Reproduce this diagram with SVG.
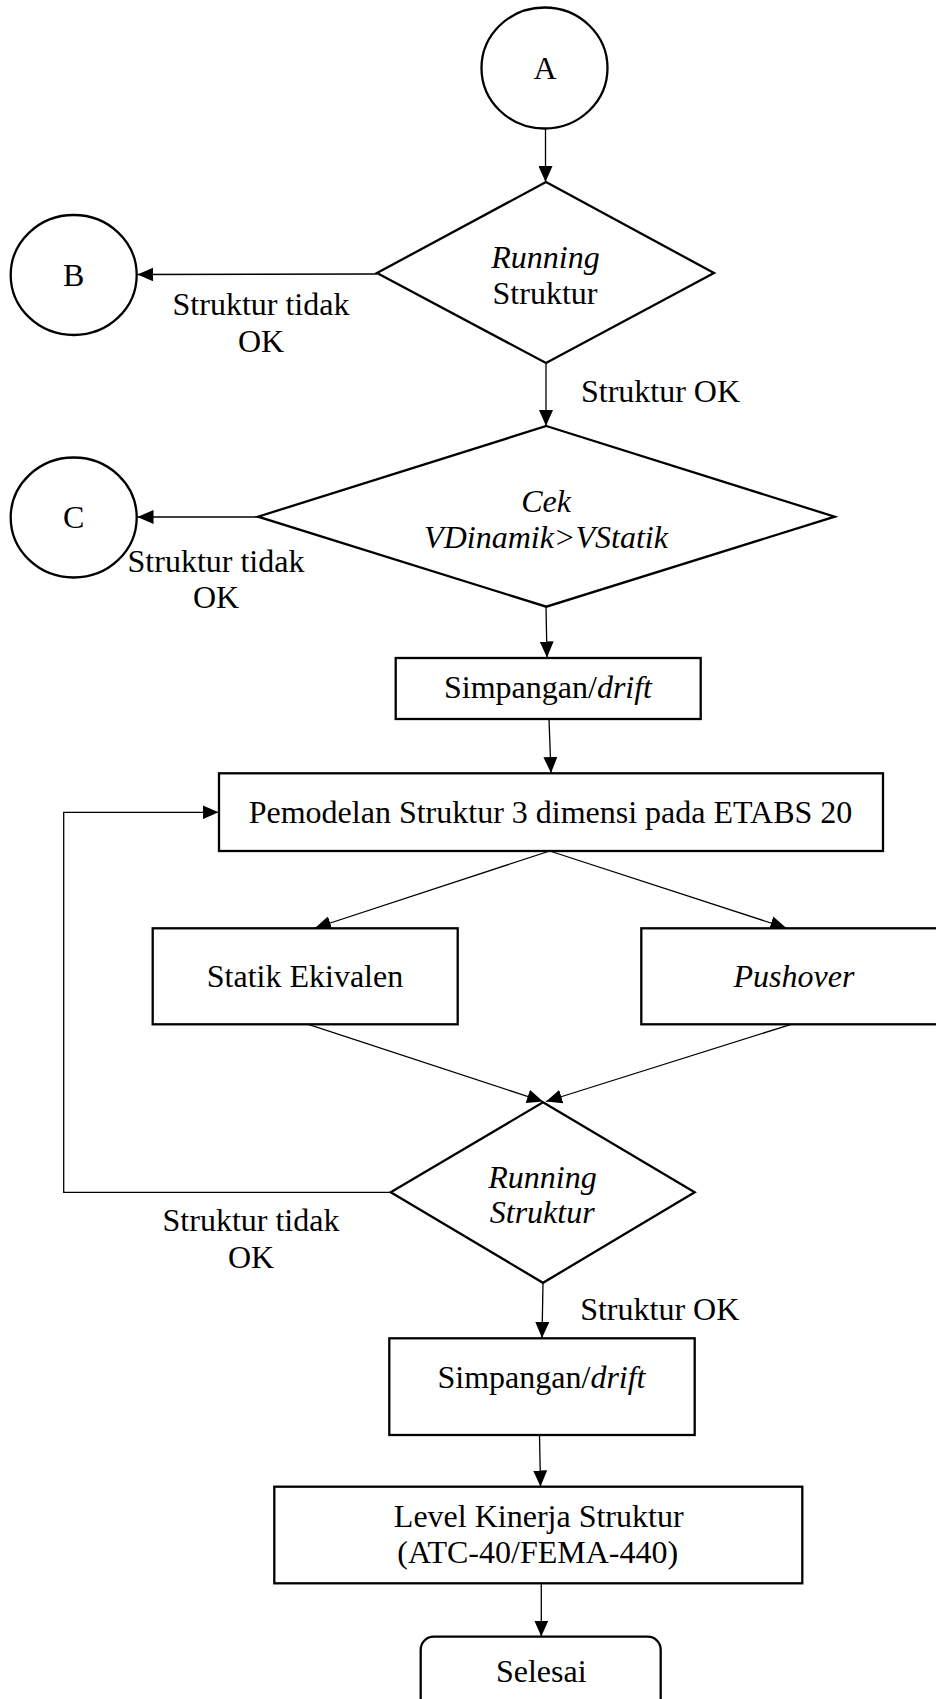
<svg xmlns="http://www.w3.org/2000/svg" width="936" height="1699" viewBox="0 0 936 1699">
<defs>
<marker id="arr" viewBox="0 0 16 14" markerWidth="16" markerHeight="14" refX="16" refY="7" orient="auto" markerUnits="userSpaceOnUse">
<path d="M0,0 L16,7 L0,14 z" fill="#000"/>
</marker>
</defs>
<style>
.shape{fill:#fff;stroke:#000;stroke-width:2.3}
.conn{fill:none;stroke:#000;stroke-width:1.3}
text{font-family:"Liberation Serif","Times New Roman",serif;font-size:32px;fill:#000;text-anchor:middle}
.it{font-style:italic}
</style>
<rect width="936" height="1699" fill="#fff"/>
<g id="connectors">
<line class="conn" x1="545.5" y1="128" x2="545.5" y2="182" marker-end="url(#arr)"/>
<line class="conn" x1="377" y1="274" x2="137.5" y2="274.5" marker-end="url(#arr)"/>
<line class="conn" x1="546" y1="363" x2="546" y2="426" marker-end="url(#arr)"/>
<line class="conn" x1="258" y1="517" x2="137.5" y2="517" marker-end="url(#arr)"/>
<line class="conn" x1="546" y1="607" x2="547" y2="657.5" marker-end="url(#arr)"/>
<line class="conn" x1="549" y1="719" x2="551" y2="773" marker-end="url(#arr)"/>
<polyline class="conn" points="390.7,1192.3 63.7,1192.3 63.7,812.3 218.5,812.3" marker-end="url(#arr)"/>
<line class="conn" x1="549.7" y1="851" x2="315" y2="928" marker-end="url(#arr)"/>
<line class="conn" x1="549.7" y1="851" x2="786.3" y2="928" marker-end="url(#arr)"/>
<line class="conn" x1="308.3" y1="1024.3" x2="543" y2="1101.5" marker-end="url(#arr)"/>
<line class="conn" x1="791.3" y1="1024.3" x2="546" y2="1101.5" marker-end="url(#arr)"/>
<line class="conn" x1="543" y1="1283" x2="542" y2="1338" marker-end="url(#arr)"/>
<line class="conn" x1="539.5" y1="1435" x2="540.5" y2="1486.5" marker-end="url(#arr)"/>
<line class="conn" x1="541.3" y1="1583.3" x2="541.3" y2="1636.5" marker-end="url(#arr)"/>
</g>
<g id="label-ok1"><text x="660.5" y="402">Struktur OK</text></g>
<g id="label-notok1"><text x="261" y="315">Struktur tidak</text><text x="261" y="352">OK</text></g>
<g id="label-notok2"><text x="216" y="571.7">Struktur tidak</text><text x="216" y="608">OK</text></g>
<g id="label-notok3"><text x="251" y="1231">Struktur tidak</text><text x="251" y="1267.7">OK</text></g>
<g id="label-ok2"><text x="659.7" y="1320">Struktur OK</text></g>
<g id="nodeA"><ellipse class="shape" cx="544.5" cy="68" rx="63" ry="60.5"/><text x="545" y="79">A</text></g>
<g id="nodeB"><ellipse class="shape" cx="73.7" cy="275" rx="63" ry="60"/><text x="73.7" y="286">B</text></g>
<g id="nodeC"><ellipse class="shape" cx="73.7" cy="517.5" rx="63" ry="60"/><text x="73.7" y="528">C</text></g>
<g id="decision1"><polygon class="shape" points="546,182 714,273 546,363 377,273"/><text class="it" x="545.5" y="268">Running</text><text x="545" y="304">Struktur</text></g>
<g id="decision2"><polygon class="shape" points="546.3,426 834.7,516.7 546.3,606.7 258,516.7"/><text class="it" x="546" y="511.7">Cek</text><text class="it" x="546" y="548.3">VDinamik&gt;VStatik</text></g>
<g id="drift1"><rect class="shape" x="395.7" y="658" width="305" height="61"/><text x="548" y="698.3">Simpangan/<tspan class="it">drift</tspan></text></g>
<g id="modeling"><rect class="shape" x="219" y="773.3" width="664" height="77.7"/><text x="550.5" y="823">Pemodelan Struktur 3 dimensi pada ETABS 20</text></g>
<g id="statik"><rect class="shape" x="152.7" y="928.3" width="305" height="96"/><text x="305" y="987.3">Statik Ekivalen</text></g>
<g id="pushover"><rect class="shape" x="641.3" y="928.3" width="310" height="96"/><text class="it" x="794" y="986.7">Pushover</text></g>
<g id="decision3"><polygon class="shape" points="543,1102.3 694.7,1192.3 543,1282.8 390.7,1192.3"/><text class="it" x="542.5" y="1188.3">Running</text><text class="it" x="542.2" y="1223.3">Struktur</text></g>
<g id="drift2"><rect class="shape" x="389.3" y="1338.3" width="305.4" height="96.7"/><text x="541.5" y="1388.3">Simpangan/<tspan class="it">drift</tspan></text></g>
<g id="level"><rect class="shape" x="274.3" y="1486.7" width="528" height="96.6"/><text x="538.7" y="1527.3">Level Kinerja Struktur</text><text x="537.7" y="1563.3">(ATC-40/FEMA-440)</text></g>
<g id="selesai"><rect class="shape" x="420.7" y="1636.7" width="240" height="90" rx="13" ry="13"/><text x="541.3" y="1682.3">Selesai</text></g>
</svg>
